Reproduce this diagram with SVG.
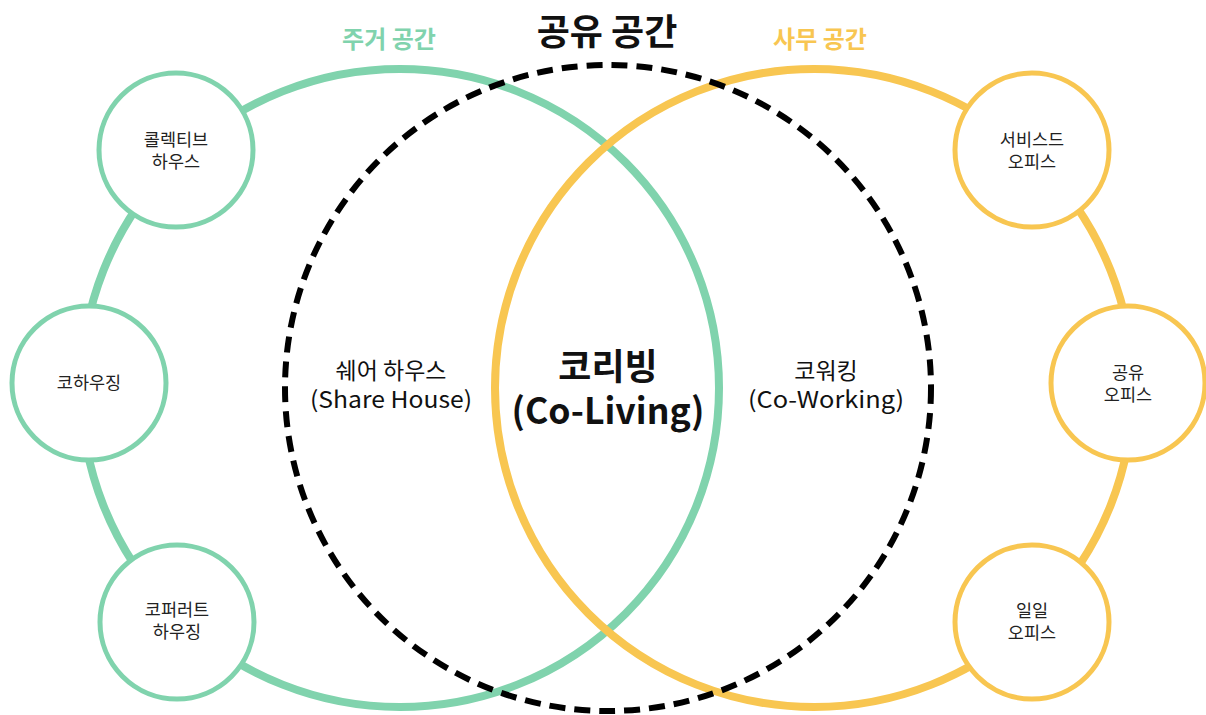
<svg xmlns="http://www.w3.org/2000/svg" width="1206" height="715" viewBox="0 0 1206 715">
<style>
.t{font-family:"Noto Sans CJK KR","Noto Sans",sans-serif;text-anchor:middle}
.sm{font-size:17.5px;fill:#222}
.md{font-size:23px;fill:#111}
.big{font-size:36px;font-weight:bold;fill:#111}
.hd{font-size:24px;font-weight:bold}
.g{fill:none;stroke:#80d3ad;stroke-width:8}
.y{fill:none;stroke:#f8c651;stroke-width:8}
.gs{fill:#fff;stroke:#80d3ad;stroke-width:5}
.ys{fill:#fff;stroke:#f8c651;stroke-width:5}
</style>
<rect width="1206" height="715" fill="#fff"/>
<g id="connectors">
<circle class="g" cx="400" cy="388" r="319"/>
<circle class="y" cx="814" cy="388" r="319"/>
<circle cx="608" cy="388" r="323" fill="none" stroke="#000" stroke-width="6" stroke-dasharray="16 9"/>
</g>
<g id="title-living"><text class="t hd" x="389" y="48" fill="#80d3ad">주거 공간</text></g>
<g id="title-shared"><text class="t" x="607" y="45" style="font-size:36px;font-weight:bold;fill:#111">공유 공간</text></g>
<g id="title-office"><text class="t hd" x="820" y="48" fill="#f8c651">사무 공간</text></g>
<g id="share-house"><text class="t md" x="391" y="379">쉐어 하우스</text><text class="t md" x="391" y="408" textLength="162" lengthAdjust="spacingAndGlyphs">(Share House)</text></g>
<g id="co-living"><text class="t big" x="608" y="380">코리빙</text><text class="t big" x="608" y="424" textLength="193" lengthAdjust="spacingAndGlyphs">(Co-Living)</text></g>
<g id="co-working"><text class="t md" x="826" y="379">코워킹</text><text class="t md" x="826" y="408" textLength="156" lengthAdjust="spacingAndGlyphs">(Co-Working)</text></g>
<g id="collective-house"><circle class="gs" cx="176" cy="150" r="77"/><text class="t sm" x="176" y="146">콜렉티브</text><text class="t sm" x="176" y="168">하우스</text></g>
<g id="cohousing"><circle class="gs" cx="89" cy="383" r="77"/><text class="t sm" x="89" y="389">코하우징</text></g>
<g id="cooperative-housing"><circle class="gs" cx="177" cy="622" r="77"/><text class="t sm" x="177" y="616">코퍼러트</text><text class="t sm" x="177" y="638">하우징</text></g>
<g id="serviced-office"><circle class="ys" cx="1032" cy="150" r="77"/><text class="t sm" x="1032" y="146">서비스드</text><text class="t sm" x="1032" y="168">오피스</text></g>
<g id="shared-office"><circle class="ys" cx="1128" cy="383" r="77"/><text class="t sm" x="1128" y="379">공유</text><text class="t sm" x="1128" y="401">오피스</text></g>
<g id="daily-office"><circle class="ys" cx="1032" cy="622" r="77"/><text class="t sm" x="1032" y="617">일일</text><text class="t sm" x="1032" y="639">오피스</text></g>
</svg>
